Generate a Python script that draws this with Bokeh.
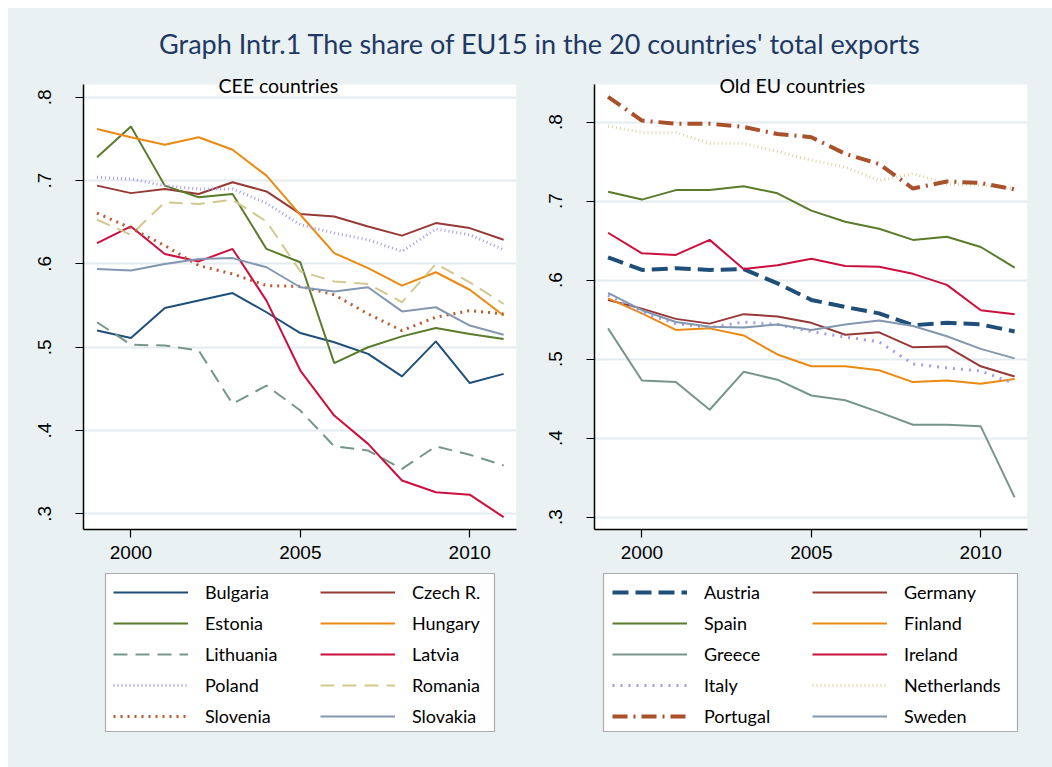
from bokeh.plotting import figure
from bokeh.layouts import column, row
from bokeh.models import Legend, LegendItem, Label, FixedTicker, Range1d, BoxAnnotation
from bokeh.embed import file_html
from bokeh.resources import INLINE

years = list(range(1999, 2012))

# CEE countries
bulgaria = [0.520, 0.511, 0.547, 0.556, 0.565, 0.542, 0.517, 0.506, 0.492, 0.465, 0.507, 0.457, 0.468]
czech = [0.694, 0.685, 0.690, 0.684, 0.698, 0.687, 0.660, 0.657, 0.645, 0.634, 0.649, 0.643, 0.629]
estonia = [0.728, 0.765, 0.694, 0.680, 0.684, 0.618, 0.602, 0.481, 0.500, 0.513, 0.523, 0.516, 0.510]
hungary = [0.762, 0.752, 0.743, 0.752, 0.737, 0.706, 0.659, 0.613, 0.595, 0.574, 0.590, 0.569, 0.538]
lithuania = [0.530, 0.503, 0.502, 0.496, 0.432, 0.454, 0.424, 0.381, 0.376, 0.354, 0.381, 0.371, 0.358]
latvia = [0.625, 0.645, 0.612, 0.603, 0.618, 0.556, 0.472, 0.418, 0.384, 0.340, 0.326, 0.323, 0.296]
poland = [0.704, 0.702, 0.694, 0.690, 0.690, 0.673, 0.647, 0.637, 0.629, 0.615, 0.642, 0.635, 0.617]
romania = [0.653, 0.635, 0.674, 0.672, 0.677, 0.651, 0.591, 0.579, 0.576, 0.554, 0.600, 0.578, 0.552]
slovenia = [0.661, 0.643, 0.622, 0.598, 0.588, 0.574, 0.573, 0.563, 0.540, 0.520, 0.536, 0.544, 0.540]
slovakia = [0.594, 0.592, 0.600, 0.606, 0.607, 0.596, 0.572, 0.567, 0.572, 0.543, 0.548, 0.526, 0.515]

# Old EU countries
austria = [0.629, 0.613, 0.615, 0.613, 0.614, 0.596, 0.575, 0.566, 0.558, 0.543, 0.546, 0.544, 0.535]
germany = [0.575, 0.564, 0.551, 0.545, 0.557, 0.554, 0.546, 0.531, 0.534, 0.515, 0.516, 0.491, 0.478]
spain = [0.712, 0.702, 0.714, 0.714, 0.719, 0.710, 0.688, 0.674, 0.665, 0.651, 0.655, 0.642, 0.616]
finland = [0.577, 0.558, 0.537, 0.539, 0.530, 0.506, 0.491, 0.491, 0.486, 0.471, 0.473, 0.469, 0.475]
greece = [0.539, 0.473, 0.471, 0.436, 0.484, 0.474, 0.454, 0.448, 0.433, 0.417, 0.417, 0.415, 0.325]
ireland = [0.660, 0.634, 0.632, 0.651, 0.614, 0.619, 0.627, 0.618, 0.617, 0.608, 0.594, 0.562, 0.557]
italy = [0.581, 0.559, 0.545, 0.540, 0.547, 0.544, 0.535, 0.528, 0.522, 0.494, 0.489, 0.485, 0.469]
netherlands = [0.795, 0.787, 0.787, 0.773, 0.773, 0.763, 0.752, 0.743, 0.726, 0.735, 0.722, 0.720, 0.716]
portugal = [0.832, 0.802, 0.798, 0.798, 0.794, 0.785, 0.781, 0.760, 0.747, 0.716, 0.725, 0.723, 0.715]
sweden = [0.584, 0.562, 0.547, 0.541, 0.540, 0.544, 0.537, 0.544, 0.549, 0.542, 0.529, 0.513, 0.501]

y_ticks = [0.3, 0.4, 0.5, 0.6, 0.7, 0.8]
y_labels = [".3", ".4", ".5", ".6", ".7", ".8"]
x_ticks = [2000, 2005, 2010]

title_text = "Graph Intr.1 The share of EU15 in the 20 countries' total exports"

BG = "#e9f1f3"
GRID = "#e3ecef"
NAVY = "#1f4e79"
DRED = "#963a37"
GREEN = "#5b7b2c"
ORANGE = "#eb8a12"
GGREEN = "#76968a"
CRIMSON = "#cc0f3e"
LAV = "#a59be6"
KHAKI = "#d2c98e"
RUST = "#b65a30"
GBLUE = "#8397b1"
PKHAKI = "#ddd5a6"
PRUST = "#a9512a"

FONT = "Lato"
TFONT = "Liberation Sans"

cee = [
    ("Bulgaria", bulgaria, NAVY, 2, "solid"),
    ("Czech R.", czech, DRED, 2, "solid"),
    ("Estonia", estonia, GREEN, 2, "solid"),
    ("Hungary", hungary, ORANGE, 2, "solid"),
    ("Lithuania", lithuania, GGREEN, 2, "14 8"),
    ("Latvia", latvia, CRIMSON, 2, "solid"),
    ("Poland", poland, LAV, 3, "1 3"),
    ("Romania", romania, KHAKI, 2, "14 8"),
    ("Slovenia", slovenia, RUST, 3, "2 5"),
    ("Slovakia", slovakia, GBLUE, 2, "solid"),
]
old = [
    ("Austria", austria, NAVY, 4, "16 7"),
    ("Germany", germany, DRED, 2, "solid"),
    ("Spain", spain, GREEN, 2, "solid"),
    ("Finland", finland, ORANGE, 2, "solid"),
    ("Greece", greece, GGREEN, 2, "solid"),
    ("Ireland", ireland, CRIMSON, 2, "solid"),
    ("Italy", italy, LAV, 3, "2 6"),
    ("Netherlands", netherlands, PKHAKI, 3, "1 3"),
    ("Portugal", portugal, PRUST, 4, "15 6 2 6"),
    ("Sweden", sweden, GBLUE, 2, "solid"),
]


def panel(series, subtitle, y0, y_plot_top, y1, width, ml, mr, sub_x, sub_y):
    p = figure(width=width, height=509, output_backend="svg", toolbar_location=None,
               x_range=Range1d(1998.60, 2011.38), y_range=Range1d(y0, y1),
               min_border_left=ml, min_border_right=mr, min_border_top=7,
               min_border_bottom=43)
    p.title.visible = False
    p.background_fill_color = BG
    p.border_fill_color = BG
    p.outline_line_color = None
    # white plot region
    p.add_layout(BoxAnnotation(bottom=y0, top=y_plot_top, fill_color="white",
                               fill_alpha=1, line_color=None, level="image"))
    p.xgrid.grid_line_color = None
    p.ygrid.grid_line_color = GRID
    p.ygrid.grid_line_width = 2
    p.ygrid.ticker = FixedTicker(ticks=y_ticks)

    p.xaxis.ticker = FixedTicker(ticks=x_ticks)
    p.yaxis.ticker = FixedTicker(ticks=y_ticks)
    p.yaxis.bounds = (y0, y_plot_top)
    p.yaxis.major_label_overrides = {t: l for t, l in zip(y_ticks, y_labels)}
    p.yaxis.major_label_orientation = "vertical"
    for ax in (p.xaxis, p.yaxis):
        ax.axis_line_color = "black"
        ax.axis_line_width = 1.5
        ax.major_tick_line_color = "black"
        ax.major_tick_line_width = 1.2
        ax.major_tick_in = 0
        ax.major_tick_out = 8
        ax.minor_tick_line_color = None
        ax.major_label_text_font = TFONT
        ax.major_label_text_font_size = "19px"
        ax.major_label_text_color = "black"
    p.yaxis.major_label_standoff = 24
    p.xaxis.major_label_standoff = 8

    for name, vals, color, lw, dash in series:
        p.line(years, vals, line_color=color, line_width=lw, line_dash=dash)

    p.add_layout(Label(x=sub_x, y=sub_y, text=subtitle, text_align="center",
                       text_baseline="middle", text_font=FONT,
                       text_font_size="19.5px", text_color="black"))
    return p


def legend_fig(series, width, col_x, box_lr):
    f = figure(width=width, height=195, output_backend="svg", toolbar_location=None,
               x_range=Range1d(0, 1), y_range=Range1d(0, 1), min_border=0)
    f.title.visible = False
    f.axis.visible = False
    f.grid.visible = False
    f.outline_line_color = None
    f.background_fill_color = BG
    f.border_fill_color = BG
    # legend frame
    f.add_layout(BoxAnnotation(left=box_lr[0], right=box_lr[1], bottom=0.1846, top=0.995,
                               fill_color="white", fill_alpha=1, line_color="black",
                               line_width=1.2, level="underlay"))
    items = []
    for name, vals, color, lw, dash in series:
        # legend swatches only: these lines fall outside this figure's ranges
        r = f.line(years, vals, line_color=color, line_width=lw, line_dash=dash)
        items.append(LegendItem(label=name, renderers=[r]))
    for c in range(2):
        leg = Legend(items=items[c::2], orientation="vertical", location=(col_x[c], 40))
        leg.glyph_width = 75
        leg.glyph_height = 20
        leg.label_height = 20
        leg.label_standoff = 17
        leg.spacing = 9
        leg.padding = 0
        leg.margin = 0
        leg.border_line_color = None
        leg.background_fill_alpha = 0
        leg.label_text_font = FONT
        leg.label_text_font_size = "18px"
        leg.label_text_color = "black"
        f.add_layout(leg)
    return f


p1 = panel(cee, "CEE countries", 0.2812, 0.8154, 0.8322, 530, 75, 22, 2004.35, 0.8142)
p2 = panel(old, "Old EU countries", 0.2844, 0.8477, 0.8654, 514, 56, 25, 2004.44, 0.8465)
l1 = legend_fig(cee, 530, (30, 237), (0.0508, 0.9492))
l2 = legend_fig(old, 514, (18, 218), (0.0208, 0.9769))

t = figure(width=1044, height=55, output_backend="svg", toolbar_location=None,
           x_range=Range1d(0, 1044), y_range=Range1d(0, 55),
           min_border=0)
t.title.visible = False
t.axis.visible = False
t.grid.visible = False
t.outline_line_color = None
t.background_fill_color = BG
t.border_fill_color = BG
t.add_layout(Label(x=531.5, y=20, text=title_text, text_align="center",
                   text_baseline="middle", text_font=FONT,
                   text_font_size="27px", text_color="#1f3864"))

layout = column(t, row(column(p1, l1, spacing=0), column(p2, l2, spacing=0), spacing=0),
                spacing=0, margin=(8, 0, 0, 8), styles={"background-color": BG})
open("out.html", "w").write(file_html(layout, INLINE))
